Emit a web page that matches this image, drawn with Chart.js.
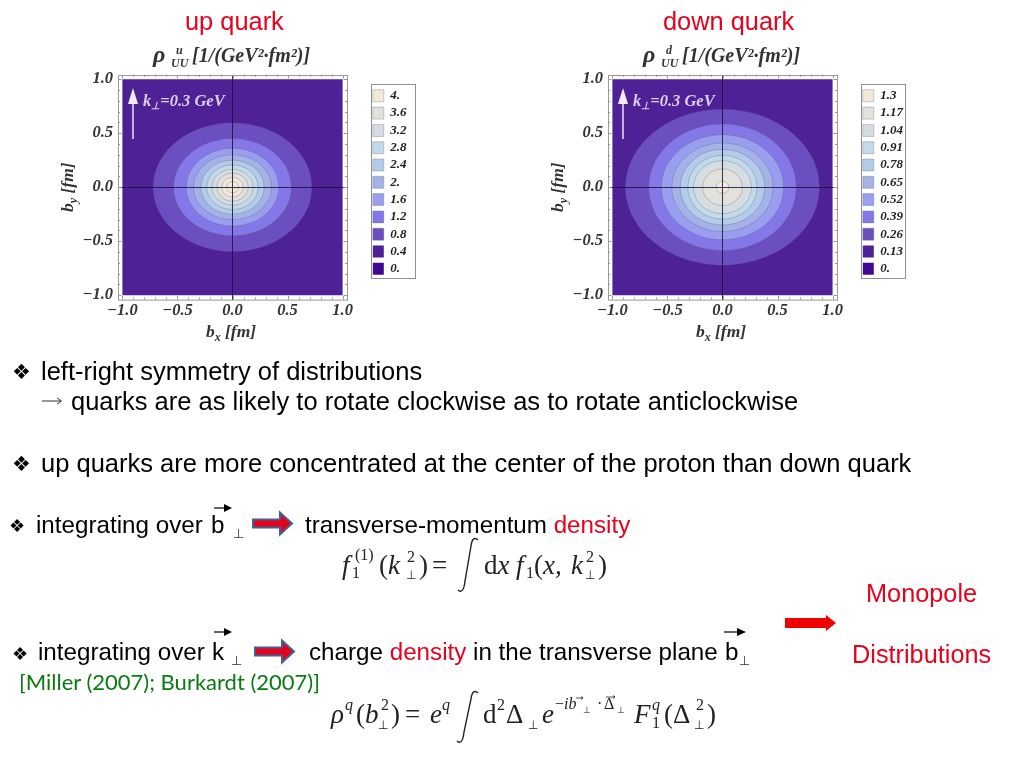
<!DOCTYPE html>
<html><head><meta charset="utf-8">
<style>
html,body{margin:0;padding:0;background:#fff;width:1024px;height:768px;overflow:hidden}
canvas{position:absolute;filter:blur(.45px)}
.t{position:absolute;white-space:nowrap;line-height:0;font-family:"Liberation Sans",Arial,sans-serif;color:#000}
.r{color:#e8001c}
.m{font-family:"Liberation Serif",serif;color:#222}
.pt{font-family:"Liberation Serif",serif;font-weight:bold;font-style:italic;color:#333}
svg{position:absolute;left:0;top:0}
</style>
<script src="https://cdn.jsdelivr.net/npm/chart.js@4/dist/chart.umd.js"></script>
</head><body>
<canvas id="up" width="370" height="284" style="left:55px;top:60px"></canvas>
<canvas id="down" width="370" height="284" style="left:545px;top:60px"></canvas>
<svg width="1024" height="768" viewBox="0 0 1024 768">
 <g id="kArrows"></g>
 <g fill="#e8001c" stroke="#3f6391" stroke-width="2">
  <path d="M253 519.5h27v-7l12 11-12 11v-7h-27z"/>
  <path d="M255 647.5h27v-7l12 11-12 11v-7h-27z"/>
 </g>
 <path fill="#f00000" d="M785 618h41v-3l10 8-10 8v-3h-41z"/>
 <g fill="#000" stroke="#000" stroke-width="1.2">
  <path d="M214 508h11" /><path stroke="none" d="M224 504l8 4-8 4z"/>
  <path d="M214 632h11" /><path stroke="none" d="M224 628l8 4-8 4z"/>
  <path d="M724 632h14" /><path stroke="none" d="M737 628l9 4-9 4z"/>
 </g>
 <path d="M42 401h19M57 398l4.5 3-4.5 3" fill="none" stroke="#333" stroke-width="1"/>
 <g fill="none" stroke="#222">
  <path stroke-width="1.4" d="M458 590c3 3 6 1 7-9l6-35c1-8 4-9 7-6"/>
  <path stroke-width="1.4" d="M457 741c3 3 6 1 7-9l7-33c1-8 4-9 7-6"/>
  <path stroke-width=".8" d="M576 698h7M581 696.5l2 1.5-2 1.5M606 697h9M613 695.5l2 1.5-2 1.5"/>
 </g>
</svg>
<div id="txt"></div>
<script>
// ---- chart data ----
const tickValues = [-1,-0.9,-0.8,-0.7,-0.6,-0.5,-0.4,-0.3,-0.2,-0.1,0,0.1,0.2,0.3,0.4,0.5,0.6,0.7,0.8,0.9,1];
const labelledTicks = [-1,-0.5,0,0.5,1];
const xAxisTitle = ["b","x"," [fm]"];
const yAxisTitle = ["b","y"," [fm]"];
const upLevels = ["","4.","3.6","3.2","2.8","2.4","2.","1.6","1.2","0.8","0.4","0."];
const upRx = [0.054,0.097,0.142,0.187,0.233,0.287,0.355,0.42,0.535,0.72];
const upRy = [0.054,0.09,0.13,0.166,0.206,0.25,0.30,0.36,0.45,0.595];
const downLevels = ["1.3","1.17","1.04","0.91","0.78","0.65","0.52","0.39","0.26","0.13","0."];
const downRx = [0.057,0.18,0.263,0.314,0.384,0.46,0.556,0.67,0.88];
const downRy = [0.055,0.17,0.245,0.296,0.35,0.41,0.486,0.586,0.72];
const levelColors = ["#f2ead8","#e3e1dc","#d5dde0","#c3dbe8","#b4cbea","#a5b2e8","#9a9eee","#8478e8","#6b4fc0","#4f2196","#420a90"];
const unitOutline = [[1,0],[0.981,0.195],[0.924,0.383],[0.831,0.556],[0.707,0.707],[0.556,0.831],[0.383,0.924],[0.195,0.981],[0,1],[-0.195,0.981],[-0.383,0.924],[-0.556,0.831],[-0.707,0.707],[-0.831,0.556],[-0.924,0.383],[-0.981,0.195],[-1,0],[-0.981,-0.195],[-0.924,-0.383],[-0.831,-0.556],[-0.707,-0.707],[-0.556,-0.831],[-0.383,-0.924],[-0.195,-0.981],[0,-1],[0.195,-0.981],[0.383,-0.924],[0.556,-0.831],[0.707,-0.707],[0.831,-0.556],[0.924,-0.383],[0.981,-0.195],[1,0]];
const plotSquare = [[-1,-1],[1,-1],[1,1],[-1,1],[-1,-1]];

const serif = '"Liberation Serif", serif';
function buildDatasets(levels, rx, ry, colors){
  return levels.map((label,i)=>{
    let pts = [];
    if(i < rx.length) pts = unitOutline.map(p=>({x:p[0]*rx[i], y:p[1]*ry[i]}));
    else if(i === rx.length) pts = plotSquare.map(p=>({x:p[0], y:p[1]}));
    return {label, data:pts, showLine:true, fill:'shape', pointRadius:0,
      tension: i<rx.length?0.34:0,
      backgroundColor:colors[i],
      borderColor: i<rx.length?'rgba(95,95,125,.32)':'rgba(0,0,0,0)',
      borderWidth:1};
  });
}
function drawAxisTitle(c, parts){
  const big = 'italic bold 17.5px '+serif, small = 'italic bold 12px '+serif;
  c.font = big; const w0 = c.measureText(parts[0]).width, w2 = c.measureText(parts[2]).width;
  c.font = small; const w1 = c.measureText(parts[1]).width;
  let x = -(w0+w1+w2)/2;
  c.fillStyle = '#333'; c.textBaseline = 'alphabetic'; c.textAlign = 'left';
  c.font = big; c.fillText(parts[0],x,0); x += w0;
  c.font = small; c.fillText(parts[1],x,4); x += w1;
  c.font = big; c.fillText(parts[2],x,0);
}
const framePlugin = {
  id:'frame',
  afterLayout(chart){
    const lg = chart.legend, h = lg.height;
    lg.left = 313.5; lg.right = lg.left + lg.width;
    lg.top = 10; lg.bottom = lg.top + h;
  },
  afterDraw(chart){
    const c = chart.ctx, a = chart.chartArea, sx = chart.scales.x, sy = chart.scales.y;
    c.save();
    c.strokeStyle = '#9a9a9a'; c.lineWidth = 1;
    c.strokeRect(Math.round(a.left)+.5, Math.round(a.top)+.5, a.width, a.height);
    c.beginPath();
    for(const v of tickValues){
      const len = labelledTicks.includes(v) ? 3.5 : 2;
      const px = Math.round(sx.getPixelForValue(v))+.5, py = Math.round(sy.getPixelForValue(v))+.5;
      c.moveTo(px,a.top); c.lineTo(px,a.top+len);
      c.moveTo(px,a.bottom); c.lineTo(px,a.bottom-len);
      c.moveTo(a.left,py); c.lineTo(a.left+len,py);
      c.moveTo(a.right,py); c.lineTo(a.right-len,py);
    }
    c.stroke();
    c.strokeStyle = '#8f8f8f';
    c.strokeRect(316.5, 24.5, 44, 194);
    c.save(); c.translate((a.left+a.right)/2-1.5, 276.5); drawAxisTitle(c, xAxisTitle); c.restore();
    c.save(); c.translate(18, (a.top+a.bottom)/2); c.rotate(-Math.PI/2); drawAxisTitle(c, yAxisTitle); c.restore();
    c.restore();
  }
};
function axis(extra, pad){
  return Object.assign({
    type:'linear', min:-1.04, max:1.04,
    afterBuildTicks(s){ s.ticks = tickValues.map(v=>({value:v})); },
    ticks:{ autoSkip:false, maxRotation:0, padding:pad, color:'#333',
      font:{family:serif,size:16.5,weight:'bold',style:'italic'},
      callback(v){ return labelledTicks.includes(v) ? (v<0?'\u2212':'')+Math.abs(v).toFixed(1) : ''; } },
    grid:{ z:1, drawTicks:false, lineWidth:1,
      color(ctx){ return ctx.tick && ctx.tick.value===0 ? 'rgba(25,15,60,.85)' : 'rgba(0,0,0,0)'; } },
    border:{display:false}
  },extra);
}
function makeChart(id, datasets){
  return new Chart(document.getElementById(id),{
    type:'scatter',
    data:{datasets},
    plugins:[framePlugin],
    options:{
      responsive:false, animation:false, devicePixelRatio:1,
      layout:{padding:{top:9.5,right:78,bottom:0,left:0}},
      elements:{line:{capBezierPoints:false}},
      scales:{
        x:axis({afterFit(s){s.height=44.5;}},1),
        y:axis({afterFit(s){s.width=63;}},5)
      },
      plugins:{
        tooltip:{enabled:false},
        title:{display:false},
        legend:{display:true, position:'chartArea',
          labels:{boxWidth:11,boxHeight:12,padding:4.3,color:'#222',
            font:{family:serif,size:13,weight:'bold',style:'italic'},
            filter(item){return item.text!=='';}}}
      }
    }
  });
}
makeChart('up', buildDatasets(upLevels, upRx, upRy, [levelColors[0]].concat(levelColors)));
makeChart('down', buildDatasets(downLevels, downRx, downRy, levelColors));

// ---- slide text ----
const box = document.getElementById('txt');
function T(x, base, html, size, cls, extra){
  const e = document.createElement('div');
  e.className = 't '+(cls||'');
  e.style.left = x+'px';
  e.style.top = (base-0.3465*size)+'px';
  e.style.fontSize = size+'px';
  if(extra) e.style.cssText += extra;
  e.innerHTML = html;
  box.appendChild(e);
}
const D = 'font-family:\'DejaVu Sans\';';
T(185,30,'up quark',25.4,'r');
T(663,30,'down quark',25.4,'r');
// plot headings and annotations
for(const [dx,q] of [[0,'u'],[490,'d']]){
  T(153+dx,62,'<i>ρ</i>',24,'pt');
  T(176+dx,54,q,12,'pt');
  T(171+dx,67,'UU',12,'pt');
  T(192+dx,62,'[<i>1/</i>(GeV²·<i>fm</i>²)]',20,'pt');
  T(143+dx,107,'k<span style="font-size:10px;position:relative;top:3px">⊥</span>=0.3 GeV',16.5,'pt','color:#dccfee;');
}
// body
T(12,379,'❖',21,'',D);
T(41,380,'left-right symmetry of distributions',25.5);
T(71,409.5,'quarks are as likely to rotate clockwise as to rotate anticlockwise',25.5);
T(12,471,'❖',21,'',D);
T(41,472,'up quarks are more concentrated at the center of the proton than down quark',25.5);
T(9,532,'❖',18,'',D);
T(36,533,'integrating over',24.2);
T(211,533,'b',24.2);
T(233,539,'⊥',13,'',D+'color:#333;');
T(305,533,'transverse-momentum <span class="r">density</span>',24.2);
T(12,660,'❖',18,'',D);
T(38,660,'integrating over',24.2);
T(212,660,'k',24.2);
T(231,666,'⊥',13,'',D+'color:#333;');
T(309,660,'charge <span class="r">density</span> in the transverse plane',24.2);
T(725,660,'b',24.2);
T(739,666,'⊥',13,'',D+'color:#333;');
T(19,690,'[Miller (2007); Burkardt (2007)]',22,'','font-family:Lato,sans-serif;color:#0b7a12;');
T(866,602,'Monopole',25.3,'r');
T(852,663,'Distributions',25.3,'r');
// formula 1
const M = 27, S = 16, P = 12;
T(342,574,'<i>f</i>',M,'m');
T(352,579,'1',S,'m');
T(355,561,'(1)',S,'m');
T(379,574,'(<i>k</i>',M,'m');
T(407,563,'2',S,'m');
T(406,579,'⊥',P,'m',D);
T(419,574,')',M,'m');
T(432,574,'=',M,'m');
T(484,574,'d<i>x</i>',M,'m');
T(516,574,'<i>f</i>',M,'m');
T(526,579,'1',S,'m');
T(534,574,'(<i>x,</i>',M,'m');
T(571,574,'<i>k</i>',M,'m');
T(586,563,'2',S,'m');
T(585,579,'⊥',P,'m',D);
T(598,574,')',M,'m');
// formula 2
T(331,723,'<i>ρ</i>',M,'m');
T(345,711,'<i>q</i>',S,'m');
T(356,723,'(<i>b</i>',M,'m');
T(381,711,'2',S,'m');
T(378,729,'⊥',P,'m',D);
T(391,723,')',M,'m');
T(405,723,'=',M,'m');
T(430,723,'<i>e</i>',M,'m');
T(442,711,'<i>q</i>',S,'m');
T(483,723,'d',M,'m');
T(497,711,'2',S,'m');
T(506,723,'Δ',M,'m');
T(528,729,'⊥',P,'m',D);
T(542,723,'<i>e</i>',M,'m');
T(555,710,'−<i>ib</i>',S,'m');
T(583,713,'⊥',9,'m',D);
T(597,710,'·',S,'m');
T(604,710,'Δ',S,'m');
T(617,713,'⊥',9,'m',D);
T(634,723,'<i>F</i>',M,'m');
T(652,711,'<i>q</i>',S,'m');
T(652,729,'1',S,'m');
T(664,723,'(Δ',M,'m');
T(696,711,'2',S,'m');
T(694,729,'⊥',P,'m',D);
T(707,723,')',M,'m');
// plot arrows for the k-perp annotation
const g = document.getElementById('kArrows');
g.innerHTML = [133,623].map(x=>`<path d="M${x} 139V104" stroke="#c4b0dc" stroke-width="2" fill="none"/><path d="M${x} 88l-5 16h10z" fill="#f2ecf6"/>`).join('');
document.querySelector('svg').style.zIndex = 2;
box.style.cssText='position:absolute;left:0;top:0;z-index:3';
</script>
</body></html>
